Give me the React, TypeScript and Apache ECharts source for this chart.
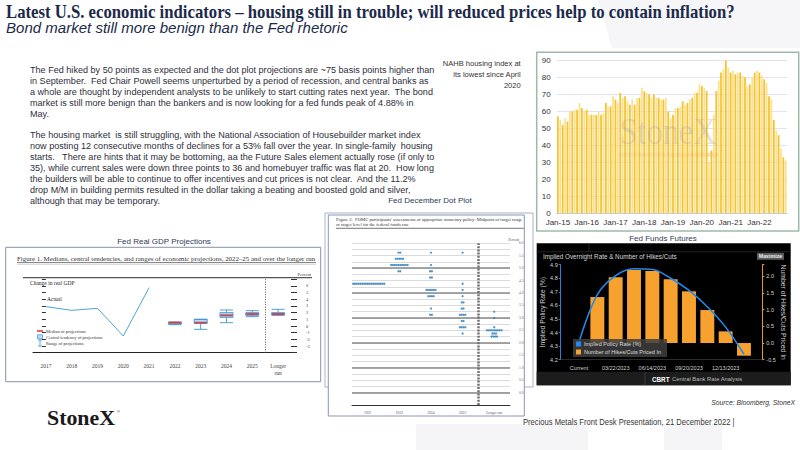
import React, { useEffect, useRef } from 'react';
import * as echarts from 'echarts';

// ---------------- DATA ----------------
const NAHB_YEARS = ['15', '16', '17', '18', '19', '20', '21', '22'];
const MONTHS = ['Jan', 'Feb', 'Mar', 'Apr', 'May', 'Jun', 'Jul', 'Aug', 'Sep', 'Oct', 'Nov', 'Dec'];
const nahbCategories = NAHB_YEARS.flatMap((y) => MONTHS.map((m) => `${m}-${y}`));
const nahbValues = [
  57, 55, 52, 56, 54, 60, 60, 61, 61, 65, 62, 60,
  61, 58, 58, 58, 58, 60, 58, 59, 65, 63, 63, 69,
  67, 65, 71, 68, 69, 66, 64, 67, 64, 68, 68, 74,
  72, 71, 70, 68, 70, 68, 68, 67, 67, 68, 60, 56,
  58, 62, 62, 63, 66, 64, 65, 67, 68, 71, 71, 76,
  75, 74, 72, 30, 37, 58, 72, 78, 83, 85, 90, 86,
  83, 84, 82, 83, 83, 81, 80, 75, 76, 80, 83, 84,
  83, 81, 79, 77, 69, 67, 55, 49, 46, 38, 33, 31,
];

const gdpCategories = ['2017', '2018', '2019', '2020', '2021', '2022', '2023', '2024', '2025', 'Longer\nrun'];
const gdpActual = [2.9, 2.35, 2.65, -1.5, 5.75];
const gdpProjCategories = ['2022', '2023', '2024', '2025', 'Longer\nrun'];
const gdpRangeLow = [0.2, -0.5, 0.5, 1.4, 1.6];
const gdpCentralLow = [0.3, 0.4, 1.3, 1.6, 1.7];
const gdpMedian = [0.5, 0.5, 1.6, 1.8, 1.8];
const gdpCentralHigh = [0.55, 1.0, 2.0, 2.0, 2.0];
const gdpRangeHigh = [0.6, 1.0, 2.4, 2.3, 2.5];
const GDP_DIVIDER = 8.5;

const dotCategories = ['2022', '2023', '2024', '2025', 'Longer run'];
const dotLevels = [
  [4.375],
  [5.625, 5.375, 5.125, 4.875],
  [5.625, 5.125, 4.875, 4.625, 4.125, 3.875, 3.375, 3.125],
  [5.625, 4.375, 4.125, 3.875, 3.625, 3.375, 3.125, 2.875, 2.625, 2.375],
  [3.25, 3.0, 2.625, 2.5, 2.375, 2.25],
];
const dotCounts = [
  [19],
  [2, 5, 10, 2],
  [1, 1, 2, 2, 6, 4, 1, 2],
  [1, 1, 1, 1, 2, 2, 4, 2, 4, 1],
  [1, 1, 1, 9, 3, 4],
];
const LR_DIVIDER = 3.5;

const ffCategories = ['', 'Current', '02/01/2023', '03/22/2023', '05/03/2023', '06/14/2023', '07/26/2023', '09/20/2023', '11/01/2023', '12/13/2023', '01/31/2024', ''];
const ffRate = [null, 4.33, 4.68, 4.82, 4.87, 4.865, 4.8, 4.71, 4.59, 4.44, 4.24, null];
const ffHikes = [null, null, 1.38, 1.97, 2.19, 2.16, 1.91, 1.55, 0.99, 0.35, -0.38, null];

const bodyLines = [
  'The Fed hiked by 50 points as expected and the dot plot projections are ~75 basis points higher than',
  'in September.  Fed Chair Powell seems unperturbed by a period of recession, and central banks as',
  'a whole are thought by independent analysts to be unlikely to start cutting rates next year.  The bond',
  'market is still more benign than the bankers and is now looking for a fed funds peak of 4.88% in',
  'May.',
  '',
  'The housing market  is still struggling, with the National Association of Housebuilder market index',
  'now posting 12 consecutive months of declines for a 53% fall over the year. In single-family  housing',
  'starts.   There are hints that it may be bottoming, aa the Future Sales element actually rose (if only to',
  '35), while current sales were down three points to 36 and homebuyer traffic was flat at 20.  How long',
  'the builders will be able to continue to offer incentives and cut prices is not clear.  And the 11.2%',
  'drop M/M in building permits resulted in the dollar taking a beating and boosted gold and silver,',
  'although that may be temporary.',
];

// ---------------- HELPERS ----------------
let ctx2d: CanvasRenderingContext2D | null = null;
function textWidth(text: string, font: string) {
  if (!ctx2d) ctx2d = document.createElement('canvas').getContext('2d');
  ctx2d!.font = font;
  return ctx2d!.measureText(text).width || 1;
}
function fitX(text: string, font: string, target: number) {
  return target / textWidth(text, font);
}
function txt(text: string, x: number, y: number, font: string, fill: string, o: any = {}) {
  return {
    type: 'text', x, y, z: 20, silent: true, scaleX: o.scaleX ?? 1,
    style: { text, font, fill, align: o.align ?? 'left', verticalAlign: o.va ?? 'middle', lineHeight: o.lineHeight },
  };
}
function rect(x: number, y: number, w: number, h: number, style: any, z = -5) {
  return { type: 'rect', z, silent: true, shape: { x, y, width: w, height: h }, style };
}
function line(x1: number, y1: number, x2: number, y2: number, stroke: string, lineWidth = 1, z = 5, extra: any = {}) {
  return { type: 'line', z, silent: true, shape: { x1, y1, x2, y2 }, style: { stroke, lineWidth, ...extra } };
}

function buildOption() {
  const SANS = '"Liberation Sans", Arial, sans-serif';
  const SERIF = '"Liberation Serif", "Times New Roman", serif';

  const titleText = 'Latest U.S. economic indicators \u2013 housing still in trouble; will reduced prices help to contain inflation?';
  const titleFont = `bold 18px ${SERIF}`;
  const subText = 'Bond market still more benign than the Fed rhetoric';
  const subFont = `italic 14px ${SANS}`;
  const bodyFont = `9px ${SANS}`;
  const bodyScale = fitX(bodyLines[0], bodyFont, 405);
  const noteFont = `7.5px ${SANS}`;
  const noteScale = fitX('NAHB housing index at', noteFont, 78);
  const capFont = `8px ${SANS}`;
  const gdpHead = 'Figure 1. Medians, central tendencies, and ranges of economic projections, 2022\u201325 and over the longer run';
  const gdpHeadFont = `6px ${SERIF}`;
  const dotHead = "Figure 2.  FOMC participants' assessments of appropriate monetary policy: Midpoint of target range\nor target level for the federal funds rate";
  const dotHeadFont = `4.3px ${SERIF}`;
  const footText = 'Precious Metals Front Desk Presentation, 21 December 2022 |';
  const footFont = `8.5px ${SANS}`;
  const srcText = 'Source: Bloomberg, StoneX';
  const srcFont = `italic 7.5px ${SANS}`;
  const logoFont = `bold 21px ${SERIF}`;
  const wmFont = `38px ${SERIF}`;

  const dotData: number[][] = [];
  dotLevels.forEach((levels, c) => {
    levels.forEach((lv, j) => {
      const n = dotCounts[c][j];
      for (let k = 0; k < n; k++) dotData.push([c + (k - (n - 1) / 2) * 0.058, lv]);
    });
  });

  const nTicks = 27;
  const thinColors = Array.from({ length: nTicks }, (_, i) => (i < 2 ? 'rgba(0,0,0,0)' : '#d2d2d2'));
  const thickColors = Array.from({ length: nTicks }, (_, i) => (i >= 2 && i < 26 && (i - 2) % 4 === 0 ? '#8a8a8a' : 'rgba(0,0,0,0)'));

  const gdpBoxData = gdpProjCategories.map((c, i) => [
    gdpCategories.indexOf(c), gdpRangeLow[i], gdpCentralLow[i], gdpMedian[i], gdpCentralHigh[i], gdpRangeHigh[i],
  ]);
  const gdpMedData = gdpProjCategories.map((c, i) => [gdpCategories.indexOf(c), gdpMedian[i]]);

  const graphic: any[] = [
    { type: 'polygon', z: -20, silent: true, shape: { points: [[598, 0], [800, 0], [800, 48], [612, 48]] }, style: { fill: '#f6f6f9' } },
    { type: 'polygon', z: -20, silent: true, shape: { points: [[416, 424], [588, 424], [588, 450], [416, 450]] }, style: { fill: '#f5f5f8' } },
    { type: 'polygon', z: -20, silent: true, shape: { points: [[664, 424], [722, 424], [722, 450], [664, 450]] }, style: { fill: '#f5f5f8' } },

    txt(titleText, 6, 12.5, titleFont, '#1c2a4a', { scaleX: fitX(titleText, titleFont, 729) }),
    txt(subText, 6, 28.5, subFont, '#1c2a4a', { scaleX: fitX(subText, subFont, 342) }),

    txt(bodyLines.join('\n'), 30, 64.5, bodyFont, '#2e2e3a', { scaleX: bodyScale, va: 'top', lineHeight: 10.9 }),
    txt('NAHB housing index at\nits lowest since April\n2020', 520.7, 58.6, noteFont, '#333', { align: 'right', va: 'top', lineHeight: 10.8, scaleX: noteScale }),

    rect(536.7, 52.3, 262, 178.7, { fill: '#fff', stroke: '#9dbaa9', lineWidth: 1.5 }),
    txt('StoneX', 668, 132, wmFont, 'rgba(150,160,168,0.28)', { align: 'center', scaleX: fitX('StoneX', wmFont, 97) }),
    rect(619, 152.7, 62, 4, { fill: 'rgba(170,185,180,0.35)' }, 1),
    rect(681, 152.7, 37, 4, { fill: 'rgba(240,150,120,0.35)' }, 1),

    txt('Fed Real GDP Projections', 164, 241, capFont, '#2e3b55', { align: 'center' }),
    rect(5.7, 247.3, 315, 134.4, { fill: '#fff', stroke: '#8790b0', lineWidth: 1 }),
    txt(gdpHead, 17, 258.3, gdpHeadFont, '#333', { scaleX: fitX(gdpHead, gdpHeadFont, 299) }),
    line(17, 262.5, 316, 262.5, '#888', 1.2),
    line(17, 264.2, 316, 264.2, '#aaa', 0.6),
    line(23, 277.7, 312, 277.7, '#555', 1.2),
    txt('Percent', 311, 274.5, `4.5px ${SERIF}`, '#333', { align: 'right' }),
    txt('Change in real GDP', 30, 282.5, `5.5px ${SERIF}`, '#222'),
    txt('Actual', 47, 299, `5.5px ${SERIF}`, '#222'),
    line(37, 331, 43, 331, '#e8312f', 1.5, 21),
    txt('Median of projections', 46, 331, `4.5px ${SERIF}`, '#333'),
    rect(37.5, 334.8, 5, 4, { fill: '#b9dcf2', stroke: '#3c94cf', lineWidth: 0.7 }, 21),
    txt('Central tendency of projections', 46, 337, `4.5px ${SERIF}`, '#333'),
    line(40, 340, 40, 346, '#3c94cf', 0.8, 21),
    line(38, 340, 42, 340, '#3c94cf', 0.8, 21),
    line(38, 346, 42, 346, '#3c94cf', 0.8, 21),
    txt('Range of projections', 46, 343, `4.5px ${SERIF}`, '#333'),

    rect(325, 213, 208, 174, { fill: 'none', stroke: '#9a9fb5', lineWidth: 0.8 }, -8),
    txt('Fed December Dot Plot', 430, 200, capFont, '#2e3b55', { align: 'center' }),
    rect(328.3, 215, 196, 201, { fill: '#fff', stroke: '#8a94b8', lineWidth: 1 }),
    txt(dotHead, 336, 217.3, dotHeadFont, '#333', { va: 'top', lineHeight: 5, scaleX: fitX("Figure 2.  FOMC participants' assessments of appropriate monetary policy: Midpoint of target range", dotHeadFont, 187) }),
    line(336, 228.3, 523.7, 228.3, '#666', 0.9),
    txt('Percent', 519, 240, `3.5px ${SERIF}`, '#444', { align: 'right' }),

    txt('Fed Funds Futures', 663, 238.3, capFont, '#2e3b55', { align: 'center' }),
    rect(536.7, 243.3, 254, 142, { fill: '#000' }),
    line(536.7, 251.8, 790.7, 251.8, '#2c2c2c', 0.8, -4),
    line(589, 243.3, 589, 251.8, '#2c2c2c', 0.8, -4),
    txt('Implied Overnight Rate & Number of Hikes/Cuts', 543, 256.3, `6.3px ${SANS}`, '#d8d8d8'),
    rect(757, 252.8, 27, 7, { fill: '#5a5a5a' }, -4),
    txt('Maximize', 770.5, 256.3, `bold 5.3px ${SANS}`, '#eee', { align: 'center' }),
    rect(536.7, 371.7, 254, 13.6, { fill: '#1c1c1c' }, -4),
    line(645, 371.7, 645, 385.3, '#444', 0.8, -3),
    txt('CBRT', 652, 379, `bold 6.3px ${SANS}`, '#fff'),
    txt('Central Bank Rate Analysis', 672, 379, `5.8px ${SANS}`, '#bbb'),

    txt(srcText, 795, 402.5, srcFont, '#333', { align: 'right', scaleX: fitX(srcText, srcFont, 84) }),
    txt(footText, 523, 422, footFont, '#333', { scaleX: fitX(footText, footFont, 212) }),
    txt('StoneX', 47, 418, logoFont, '#1a1a1a', { scaleX: fitX('StoneX', logoFont, 68) }),
    txt('\u00ae', 117, 411, `4px ${SANS}`, '#333'),
  ];

  return {
    animation: false,
    backgroundColor: '#ffffff',
    textStyle: { fontFamily: 'Liberation Sans' },
    graphic: { elements: graphic },
    legend: {
      data: ['Implied Policy Rate (%)', 'Number of Hikes/Cuts Priced In'],
      orient: 'vertical', left: 573, top: 339, itemWidth: 5, itemHeight: 5, itemGap: 2,
      padding: [2, 6, 2, 3], backgroundColor: 'rgba(62,62,62,0.85)', icon: 'rect', selectedMode: false,
      textStyle: { color: '#ddd', fontSize: 5.5, padding: [0, 0, 0, -2] },
    },
    grid: [
      { left: 556.7, right: 13, top: 60.7, bottom: 237 },
      { left: 33, width: 258, top: 279.3, bottom: 97.3 },
      { left: 352, width: 158, top: 243.3, bottom: 45 },
      { left: 560.7, right: 37.7, top: 264.7, bottom: 90.3 },
    ],
    xAxis: [
      {
        gridIndex: 0, type: 'category', data: nahbCategories, boundaryGap: true,
        axisLine: { onZero: false, lineStyle: { color: '#c8ccd4' } },
        axisTick: { interval: 11, length: 4, lineStyle: { color: '#999' } },
        axisLabel: { interval: 11, fontSize: 8, color: '#333', margin: 5 },
      },
      {
        gridIndex: 1, type: 'category', data: gdpCategories, boundaryGap: true,
        axisLine: { onZero: false, lineStyle: { color: '#222', width: 1.2 } },
        axisTick: { inside: true, length: 3, lineStyle: { color: '#222' } },
        axisLabel: { fontSize: 5.5, color: '#444', margin: 10, fontFamily: 'Liberation Serif', lineHeight: 7 },
      },
      { gridIndex: 1, type: 'value', min: -0.5, max: 9.5, show: false },
      {
        gridIndex: 2, type: 'category', data: dotCategories, boundaryGap: true,
        axisLine: { onZero: false, lineStyle: { color: '#333', width: 1 } },
        axisTick: { inside: true, length: 4, lineStyle: { color: '#333' } },
        axisLabel: { fontSize: 3.6, color: '#555', margin: 6, fontFamily: 'Liberation Serif' },
      },
      { gridIndex: 2, type: 'value', min: -0.5, max: 4.5, show: false },
      {
        gridIndex: 3, type: 'category', data: ffCategories, boundaryGap: false,
        axisLine: { onZero: false, lineStyle: { color: '#2a2a2a' } },
        axisTick: { show: false },
        axisLabel: { interval: (i: number) => i % 2 === 1, color: '#d0d0d0', fontSize: 5.5, margin: 5 },
      },
    ],
    yAxis: [
      {
        gridIndex: 0, type: 'value', min: 0, max: 90, interval: 10,
        axisLine: { show: false }, axisTick: { show: false },
        axisLabel: { fontSize: 8, color: '#333', margin: 6 },
        splitLine: { lineStyle: { color: '#dfe4ee', width: 1 } },
      },
      {
        gridIndex: 1, type: 'value', min: -4, max: 7, interval: 1, position: 'left',
        axisLine: { show: false }, axisTick: { show: true, length: 4, lineStyle: { color: '#333' } },
        axisLabel: { show: false }, splitLine: { show: false },
      },
      {
        gridIndex: 1, type: 'value', min: -4, max: 7, interval: 1, position: 'right',
        axisLine: { show: false }, axisTick: { show: true, length: 6, lineStyle: { color: '#333' } },
        axisLabel: { fontSize: 4.5, color: '#444', margin: 15, fontFamily: 'Liberation Serif', formatter: (v: number) => (v <= -4 || v >= 7 ? '' : String(v)) },
        splitLine: { show: false },
      },
      {
        gridIndex: 2, type: 'value', min: -0.5, max: 6, interval: 0.25,
        axisLine: { show: false }, axisTick: { show: false }, axisLabel: { show: false },
        splitLine: { lineStyle: { color: thinColors, width: 0.8 } },
      },
      {
        gridIndex: 2, type: 'value', min: -0.5, max: 6, interval: 0.25,
        axisLine: { show: false }, axisTick: { show: false }, axisLabel: { show: false },
        splitLine: { lineStyle: { color: thickColors, width: 1.6 } },
      },
      {
        gridIndex: 2, type: 'value', min: -0.5, max: 6, interval: 0.5, position: 'right',
        axisLine: { show: false }, axisTick: { show: false }, splitLine: { show: false },
        axisLabel: { fontSize: 3.6, color: '#666', margin: 9, fontFamily: 'Liberation Serif', formatter: (v: number) => (v < 0 ? '' : v.toFixed(1)) },
      },
      {
        gridIndex: 3, type: 'value', min: 4.2, max: 4.9, interval: 0.1, position: 'left',
        name: 'Implied Policy Rate (%)', nameLocation: 'middle', nameRotate: 90, nameGap: 14,
        nameTextStyle: { color: '#cfcfcf', fontSize: 6.8 },
        axisLine: { show: true, lineStyle: { color: '#2a7de1' } },
        axisTick: { show: true, length: 2, lineStyle: { color: '#2a7de1' } },
        axisLabel: { color: '#d8d8d8', fontSize: 5.5, margin: 3, formatter: (v: number) => v.toFixed(1) },
        splitLine: { show: false },
      },
      {
        gridIndex: 3, type: 'value', min: -0.5, max: 2.35, interval: 0.5, position: 'right',
        name: 'Number of Hikes/Cuts Priced In', nameLocation: 'middle', nameRotate: -90, nameGap: 17,
        nameTextStyle: { color: '#cfcfcf', fontSize: 6.8 },
        axisLine: { show: true, lineStyle: { color: '#e89a1d' } },
        axisTick: { show: true, length: 2, lineStyle: { color: '#e89a1d' } },
        axisLabel: { color: '#d8d8d8', fontSize: 5.5, margin: 4, formatter: (v: number) => (Math.abs(v * 2 - Math.round(v * 2)) > 1e-6 ? '' : v.toFixed(1)) },
        splitLine: { show: false },
      },
    ],
    series: [
      {
        name: 'NAHB', type: 'bar', xAxisIndex: 0, yAxisIndex: 0, data: nahbValues, barCategoryGap: '28%',
        itemStyle: { color: (p: any) => (p.dataIndex % 2 ? '#fde08c' : '#f8c125') },
      },
      {
        name: 'Actual', type: 'line', xAxisIndex: 1, yAxisIndex: 1, data: gdpActual, showSymbol: false,
        lineStyle: { color: '#4ba6d9', width: 1 }, itemStyle: { color: '#4ba6d9' },
      },
      {
        name: 'Projections', type: 'boxplot', xAxisIndex: 1, yAxisIndex: 1, data: gdpBoxData, boxWidth: [13, 13],
        encode: { x: 0, y: [1, 2, 3, 4, 5] },
        itemStyle: { color: '#b9dcf2', borderColor: '#3c94cf', borderWidth: 0.9 },
      },
      {
        name: 'Median', type: 'scatter', xAxisIndex: 2, yAxisIndex: 1, data: gdpMedData, symbol: 'rect', symbolSize: [12, 2], z: 5,
        itemStyle: { color: '#e8312f' },
        markLine: {
          silent: true, symbol: ['none', 'none'], label: { show: false },
          lineStyle: { color: '#555', width: 1, type: [1, 1.5] },
          data: [{ xAxis: GDP_DIVIDER }],
        },
      },
      {
        name: 'Dots', type: 'scatter', xAxisIndex: 4, yAxisIndex: 3, data: dotData, symbol: 'circle', symbolSize: 2.3,
        itemStyle: { color: '#2c7bbf' },
        markLine: {
          silent: true, symbol: ['none', 'none'], label: { show: false },
          lineStyle: { color: '#707070', width: 2.5, type: [2, 1.2] },
          data: [{ xAxis: LR_DIVIDER }],
        },
      },
      {
        name: 'Number of Hikes/Cuts Priced In', type: 'bar', xAxisIndex: 5, yAxisIndex: 7, data: ffHikes, barWidth: '76%',
        itemStyle: { color: '#f7a12f' },
      },
      {
        name: 'Implied Policy Rate (%)', type: 'line', xAxisIndex: 5, yAxisIndex: 6, data: ffRate, showSymbol: false, smooth: 0.35,
        lineStyle: { color: '#2288ee', width: 1.6 }, itemStyle: { color: '#2288ee' }, z: 3,
      },
    ],
  };
}

export default function App() {
  const ref = useRef<HTMLDivElement>(null);
  useEffect(() => {
    if (!ref.current) return;
    const chart = echarts.init(ref.current, null, { renderer: 'svg' });
    chart.setOption(buildOption() as any);
    return () => chart.dispose();
  }, []);
  return <div ref={ref} style={{ position: 'fixed', left: 0, top: 0, width: 800, height: 450, background: '#fff' }} />;
}
